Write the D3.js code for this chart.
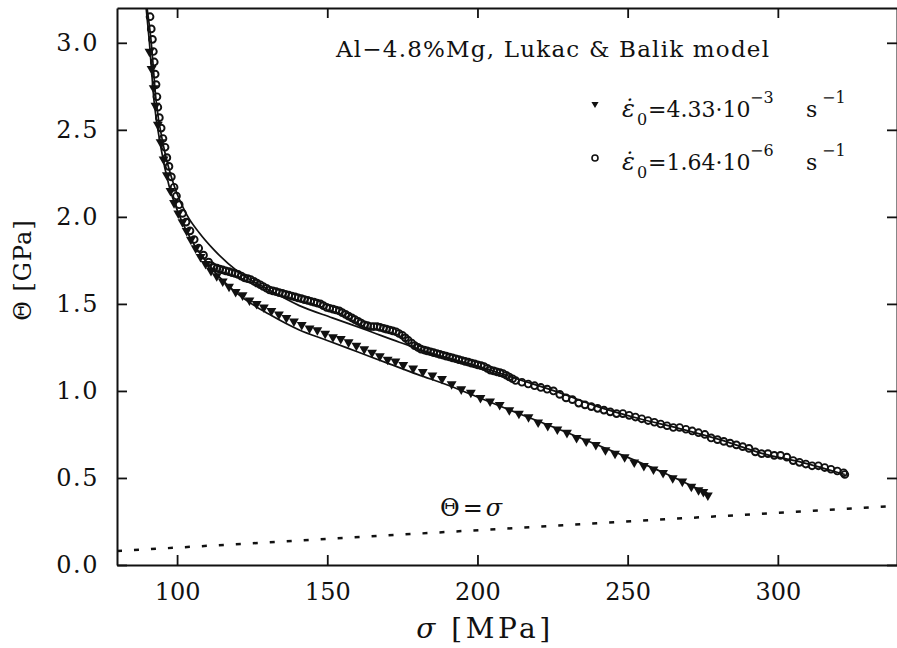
<!DOCTYPE html>
<html>
<head>
<meta charset="utf-8">
<script src="https://cdn.jsdelivr.net/npm/d3@7"></script>
<style>
  body { margin: 0; background: #fff; }
  text { font-family: "DejaVu Serif", serif; fill: #111; }
</style>
</head>
<body>
<div class="chart"></div>
<script>
// data: sigma in MPa, theta in GPa

// fast test, 4.33e-3 1/s (filled triangles)
const fastSigma = [90.8, 91.5, 92.2, 92.8, 93.6, 94.5, 95.5, 96.6, 97.8, 99.0, 100.4, 101.8, 103.2, 104.6, 106.2, 107.8, 109.5, 111.3, 113.2, 115.2, 117.3, 119.5, 121.8, 124.1, 126.5, 128.9, 131.4, 133.9, 136.4, 138.9, 141.5, 144.1, 146.7, 149.3, 151.9, 154.5, 157.1, 159.7, 162.3, 164.9, 167.5, 170.1, 172.7, 175.3, 178.6, 181.8, 185.0, 188.2, 191.4, 194.6, 197.8, 201.0, 204.2, 207.4, 210.6, 213.8, 217.0, 220.2, 223.4, 226.6, 229.8, 233.0, 236.2, 239.4, 242.6, 245.8, 249.0, 252.2, 255.4, 258.6, 261.8, 265.0, 268.2, 271.2, 273.6, 275.2, 276.7]
const fastTheta = [2.95, 2.85, 2.74, 2.64, 2.53, 2.43, 2.33, 2.24, 2.15, 2.08, 2.02, 1.97, 1.92, 1.87, 1.82, 1.77, 1.73, 1.69, 1.66, 1.63, 1.60, 1.57, 1.55, 1.52, 1.50, 1.48, 1.46, 1.44, 1.42, 1.40, 1.38, 1.36, 1.35, 1.33, 1.31, 1.30, 1.28, 1.26, 1.24, 1.22, 1.20, 1.18, 1.17, 1.15, 1.13, 1.11, 1.09, 1.07, 1.04, 1.01, 0.99, 0.96, 0.94, 0.92, 0.89, 0.87, 0.85, 0.82, 0.80, 0.78, 0.76, 0.73, 0.71, 0.69, 0.66, 0.64, 0.62, 0.59, 0.57, 0.55, 0.53, 0.50, 0.48, 0.45, 0.43, 0.42, 0.40]

// slow test, 1.64e-6 1/s (open circles)
const slowSigma = [91.0, 91.4, 91.8, 92.1, 92.4, 92.7, 93.0, 93.3, 93.6, 94.1, 94.7, 95.3, 96.0, 96.6, 97.3, 98.1, 99.0, 99.8, 100.7, 101.8, 103.0, 104.3, 105.7, 107.2, 108.8,
    110.5, 111.4, 112.3, 113.3, 114.2, 115.2, 116.2, 117.3, 118.3, 119.3, 120.3, 121.4, 122.4, 123.5, 124.5, 125.6, 126.6, 127.7, 128.7, 129.8, 130.8, 131.9, 133.0, 134.0, 135.1, 136.1, 137.2, 138.2, 139.3, 140.3, 141.4, 142.4, 143.5, 144.5, 145.6, 146.6, 147.7, 148.7, 149.8, 150.8, 151.9, 152.9, 154.0, 155.0, 156.1, 157.1, 158.2, 159.2, 160.3, 161.3, 162.4, 163.4, 164.5, 165.5, 166.6, 167.6, 168.7, 169.7, 170.8, 171.8, 172.9, 173.9, 175.0, 176.0, 177.0, 178.1, 179.1, 180.2, 181.2, 182.3, 183.3, 184.4, 185.4, 186.5, 187.5, 188.6, 189.6, 190.7, 191.7, 192.8, 193.8, 194.9, 195.9, 197.0, 198.0, 199.1, 200.1, 201.2, 202.2, 203.3, 204.3, 205.4, 206.4, 207.5, 208.5, 209.6, 210.6, 211.7, 212.7,
    214.8, 216.9, 219.0, 221.1, 223.2, 225.3, 227.4, 229.5, 231.6, 233.7, 235.8, 237.9, 240.0, 242.1, 244.2, 246.3, 248.4, 250.5, 252.6, 254.7, 256.8, 258.9, 261.0, 263.1, 265.2, 267.3, 269.4, 271.5, 273.6, 275.7, 277.8, 279.9, 282.0, 284.1, 286.2, 288.3, 290.4, 292.5, 294.6, 296.7, 298.8, 300.9, 303.0, 305.1, 307.2, 309.3, 311.4, 313.5, 315.6, 317.7, 319.8, 321.9, 322.3]
const slowTheta = [3.15, 3.08, 3.02, 2.95, 2.89, 2.82, 2.76, 2.69, 2.63, 2.57, 2.51, 2.45, 2.40, 2.34, 2.29, 2.23, 2.17, 2.12, 2.07, 2.02, 1.97, 1.92, 1.87, 1.82, 1.78,
    1.74, 1.72, 1.71, 1.705, 1.70, 1.695, 1.69, 1.685, 1.68, 1.675, 1.67, 1.66, 1.65, 1.645, 1.64, 1.63, 1.62, 1.61, 1.60, 1.59, 1.58, 1.575, 1.57, 1.565, 1.56, 1.555, 1.55, 1.545, 1.54, 1.535, 1.53, 1.525, 1.52, 1.515, 1.51, 1.505, 1.50, 1.49, 1.48, 1.475, 1.47, 1.465, 1.46, 1.45, 1.44, 1.43, 1.42, 1.41, 1.40, 1.39, 1.38, 1.375, 1.37, 1.37, 1.37, 1.365, 1.36, 1.355, 1.35, 1.345, 1.34, 1.33, 1.32, 1.305, 1.29, 1.275, 1.26, 1.25, 1.24, 1.235, 1.23, 1.225, 1.22, 1.215, 1.21, 1.205, 1.20, 1.195, 1.19, 1.185, 1.18, 1.175, 1.17, 1.165, 1.16, 1.155, 1.15, 1.145, 1.14, 1.13, 1.12, 1.115, 1.11, 1.105, 1.10, 1.09, 1.08, 1.07, 1.06,
    1.05, 1.04, 1.03, 1.02, 1.01, 1.00, 0.98, 0.96, 0.95, 0.93, 0.92, 0.91, 0.90, 0.89, 0.88, 0.87, 0.87, 0.86, 0.85, 0.84, 0.83, 0.82, 0.81, 0.80, 0.79, 0.79, 0.78, 0.77, 0.76, 0.75, 0.73, 0.72, 0.71, 0.70, 0.69, 0.68, 0.67, 0.65, 0.64, 0.64, 0.63, 0.63, 0.62, 0.60, 0.59, 0.58, 0.57, 0.57, 0.56, 0.55, 0.54, 0.53, 0.52]

// model curves (solid lines)
const modelFastSigma = [89.7, 90.7, 92.3, 94.7, 97.3, 100.7, 105.7, 111.7, 120.7, 130.7, 140.7, 150.0, 160.0, 170.0, 180.0, 190.7, 200.0, 213.0, 230.0, 246.3, 262.0, 276.7]
const modelFastTheta = [3.20, 3.02, 2.67, 2.39, 2.18, 2.01, 1.84, 1.70, 1.55, 1.44, 1.35, 1.29, 1.225, 1.16, 1.095, 1.03, 0.965, 0.875, 0.76, 0.645, 0.53, 0.41]
const modelSlowSigma = [90.0, 91.3, 93.0, 95.7, 99.0, 103.3, 107.3, 112.3, 120.7, 130.7, 140.7, 151.7, 163.0, 174.0, 184.0, 200.7, 213.0, 227.3, 240.0, 254.0, 267.0, 280.7, 295.0, 308.0, 322.3]
const modelSlowTheta = [3.20, 3.02, 2.67, 2.39, 2.18, 2.01, 1.91, 1.81, 1.68, 1.58, 1.49, 1.42, 1.35, 1.28, 1.22, 1.14, 1.07, 0.99, 0.91, 0.84, 0.785, 0.72, 0.64, 0.59, 0.52]

// reference line theta = sigma
const equalSigma = [80, 340]

const xTicks = [100, 150, 200, 250, 300]
const yTicks = [0, 0.5, 1.0, 1.5, 2.0, 2.5, 3.0]

const width = 897
const height = 648
const margin = {left: 117, right: -1, top: 8, bottom: 83}

const svg = d3.select('.chart')
    .append('svg')
    .attr('width', width)
    .attr('height', height)

const x = d3.scaleLinear()
    .domain([80, 340])
    .range([margin.left, width - margin.right])

const y = d3.scaleLinear()
    .domain([0, 3.2])
    .range([height - margin.bottom, margin.top])

const zip = (xs, ys) => xs.map((v, i) => [v, ys[i]])
const fast = zip(fastSigma, fastTheta)
const slow = zip(slowSigma, slowTheta)

svg.append('clipPath').attr('id', 'plot')
    .append('rect')
    .attr('x', x(80)).attr('y', y(3.2))
    .attr('width', x(340) - x(80)).attr('height', y(0) - y(3.2))

const plot = svg.append('g').attr('clip-path', 'url(#plot)')

const line = d3.line()
    .x(d => x(d[0]))
    .y(d => y(d[1]))
    .curve(d3.curveMonotoneX)

// theta = sigma (GPa vs MPa)
plot.append('path')
    .datum(equalSigma.map(s => [s, s / 1000]))
    .attr('d', d3.line().x(d => x(d[0])).y(d => y(d[1])))
    .attr('fill', 'none')
    .attr('stroke', '#111')
    .attr('stroke-width', 2.5)
    .attr('stroke-dasharray', '5,12')

plot.selectAll('.model')
    .data([zip(modelFastSigma, modelFastTheta), zip(modelSlowSigma, modelSlowTheta)])
    .enter()
    .append('path')
    .attr('class', 'model')
    .attr('d', line)
    .attr('fill', 'none')
    .attr('stroke', '#111')
    .attr('stroke-width', 1.7)

const tri = d3.symbol().type(d3.symbolTriangle).size(42)

plot.selectAll('.fast')
    .data(fast)
    .enter()
    .append('path')
    .attr('class', 'fast')
    .attr('d', tri)
    .attr('transform', d => `translate(${x(d[0])},${y(d[1])}) rotate(180)`)
    .attr('fill', '#111')

plot.selectAll('.slow')
    .data(slow)
    .enter()
    .append('circle')
    .attr('class', 'slow')
    .attr('cx', d => x(d[0]))
    .attr('cy', d => y(d[1]))
    .attr('r', 3.4)
    .attr('fill', 'none')
    .attr('stroke', '#111')
    .attr('stroke-width', 1.9)

// axes, ticks pointing inward on all four sides
const axisStyle = g => {
    g.select('.domain').attr('stroke', '#111').attr('stroke-width', 2)
    g.selectAll('.tick line').attr('stroke', '#111').attr('stroke-width', 1.8)
    g.selectAll('.tick text').attr('font-family', 'DejaVu Serif').attr('font-size', 24).attr('fill', '#111')
}

svg.append('g')
    .attr('transform', `translate(0,${y(0)})`)
    .call(d3.axisBottom(x).tickValues(xTicks).tickSize(-10).tickSizeOuter(0).tickPadding(18).tickFormat(d3.format('d')))
    .call(axisStyle)

svg.append('g')
    .attr('transform', `translate(0,${y(3.2)})`)
    .call(d3.axisTop(x).tickValues(xTicks).tickSize(-10).tickSizeOuter(0).tickFormat(''))
    .call(axisStyle)

svg.append('g')
    .attr('transform', `translate(${x(80)},0)`)
    .call(d3.axisLeft(y).tickValues(yTicks).tickSize(-10).tickSizeOuter(0).tickPadding(18).tickFormat(d3.format('.1f')))
    .call(axisStyle)
    .selectAll('.tick text').attr('letter-spacing', 1.5)

svg.append('g')
    .attr('transform', `translate(${x(340) - 1},0)`)
    .call(d3.axisRight(y).tickValues(yTicks).tickSize(-10).tickSizeOuter(0).tickFormat(''))
    .call(axisStyle)

// axis titles
svg.append('text')
    .attr('x', 485)
    .attr('y', 638)
    .attr('text-anchor', 'middle')
    .attr('font-size', 28)
    .attr('letter-spacing', 3.5)
    .html('<tspan font-style="italic">σ</tspan> [MPa]')

svg.append('text')
    .attr('transform', 'translate(31,270) rotate(-90)')
    .attr('text-anchor', 'middle')
    .attr('font-size', 24)
    .attr('letter-spacing', 1)
    .text('Θ [GPa]')

// annotations
svg.append('text')
    .attr('x', 336)
    .attr('y', 57)
    .attr('font-size', 23)
    .attr('letter-spacing', 1.2)
    .text('Al−4.8%Mg, Lukac & Balik model')

svg.append('text')
    .attr('x', 440)
    .attr('y', 516)
    .attr('font-size', 24)
    .attr('letter-spacing', 3)
    .html('Θ=<tspan font-style="italic">σ</tspan>')

// legend
const legend = [
    {rate: '4.33', exp: '−3', cy: 104, base: 117, kind: 'fast'},
    {rate: '1.64', exp: '−6', cy: 158, base: 170, kind: 'slow'}
]

legend.forEach(l => {
    if (l.kind === 'fast') {
        svg.append('path')
            .attr('d', d3.symbol().type(d3.symbolTriangle).size(22))
            .attr('transform', `translate(595,${l.cy}) rotate(180)`)
            .attr('fill', '#111')
    } else {
        svg.append('circle')
            .attr('cx', 595).attr('cy', l.cy).attr('r', 3)
            .attr('fill', 'none').attr('stroke', '#111').attr('stroke-width', 1.6)
    }
    const t = svg.append('text')
        .attr('x', 622)
        .attr('y', l.base)
        .attr('font-size', 22)
    t.append('tspan').attr('font-style', 'italic').attr('font-size', 24).text('ε\u0307')
    t.append('tspan').attr('x', 637).attr('font-size', 16).attr('dy', 8).text('0')
    t.append('tspan').attr('x', 648).attr('dy', -8).text('=' + l.rate + '·10')
    t.append('tspan').attr('x', 750).attr('font-size', 16).attr('dy', -14).text(l.exp)
    t.append('tspan').attr('x', 806).attr('dy', 14).text('s')
    t.append('tspan').attr('x', 822).attr('font-size', 16).attr('dy', -14).text('−1')
})
</script>
</body>
</html>
